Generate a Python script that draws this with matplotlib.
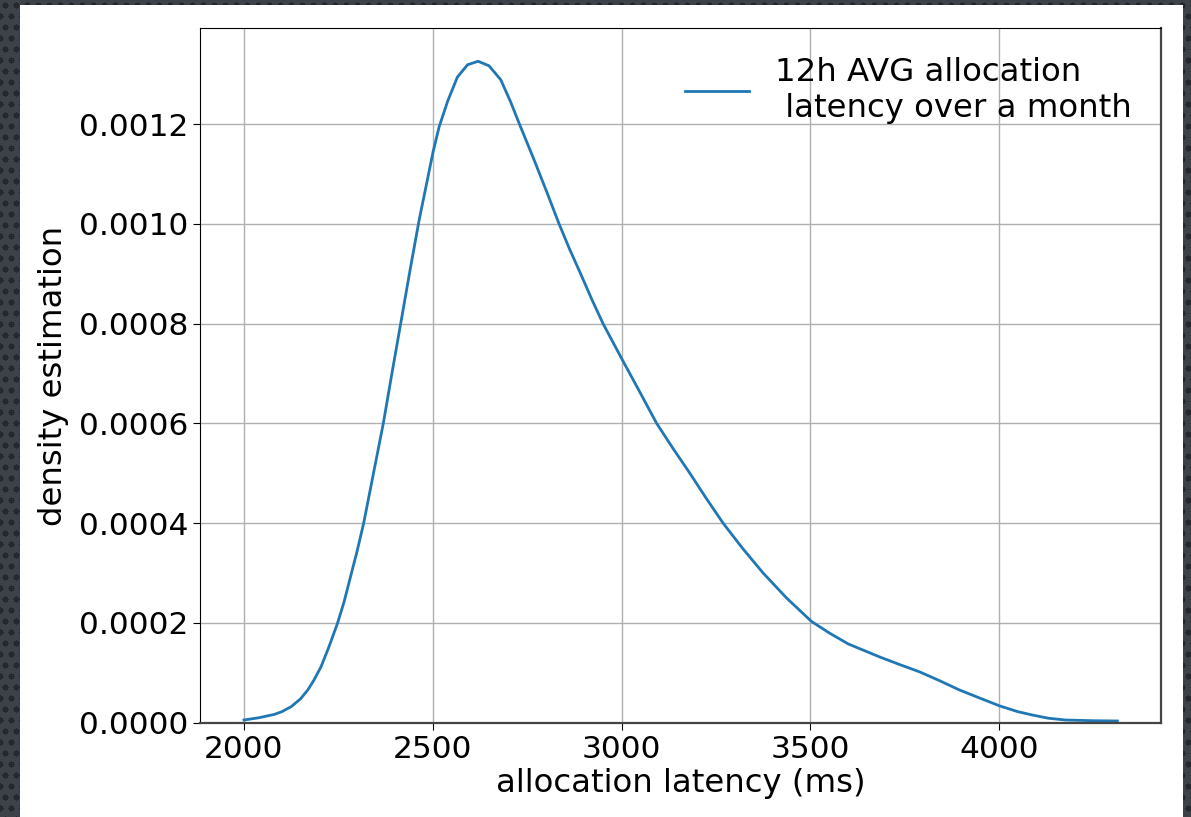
import numpy as np
import matplotlib
matplotlib.use("Agg")
import matplotlib.pyplot as plt
from matplotlib.patches import Rectangle
from matplotlib.ticker import FormatStrFormatter

# KDE curve of the 12h average allocation latency (ms -> density)
latency_ms = [2000, 2040, 2081, 2100, 2125, 2150, 2169, 2185, 2204, 2225,
              2248, 2265, 2283, 2300, 2317, 2343, 2369, 2392, 2415, 2440,
              2464, 2484, 2501, 2517, 2539, 2565, 2592, 2620, 2649, 2680,
              2706, 2728, 2768, 2803, 2834, 2862, 2891, 2921, 2951, 3001,
              3049, 3093, 3137, 3181, 3225, 3269, 3320, 3375, 3437, 3503,
              3550, 3600, 3683, 3735, 3789, 3840, 3895, 3950, 4002, 4050,
              4088, 4130, 4176, 4250, 4313]
density_e4 = [0.054, 0.10, 0.168, 0.22, 0.321, 0.48, 0.656, 0.85, 1.12, 1.52,
              2.00, 2.42, 2.95, 3.45, 4.00, 5.00, 6.00, 7.01, 8.00, 9.08,
              10.08, 10.82, 11.45, 11.95, 12.45, 12.94, 13.19, 13.26, 13.17, 12.89,
              12.45, 12.03, 11.29, 10.62, 10.01, 9.50, 9.01, 8.49, 8.00, 7.29,
              6.62, 6.00, 5.49, 5.00, 4.49, 4.00, 3.50, 3.00, 2.50, 2.03,
              1.80, 1.58, 1.32, 1.17, 1.02, 0.85, 0.656, 0.49, 0.335, 0.22,
              0.154, 0.09, 0.054, 0.04, 0.034]
density = [v * 1e-4 for v in density_e4]

y_ticks = [0.0, 0.0002, 0.0004, 0.0006, 0.0008, 0.0010, 0.0012]
x_ticks = [2000, 2500, 3000, 3500, 4000]
legend_label = "12h AVG allocation\n latency over a month"

W, H = 1191, 817
fig = plt.figure(figsize=(W / 100, H / 100), dpi=100)

# dark dotted backdrop behind the white page
bg = np.ones((H, W, 3)) * np.array([0.24, 0.26, 0.29])
yy, xx = np.mgrid[0:H, 0:W]
shift = ((yy // 11) % 2) * 5
dots = (((xx + shift) % 11 - 5) ** 2 + (yy % 11 - 5) ** 2) < 10
bg[dots] = [0.15, 0.16, 0.19]
fig.figimage(bg, xo=0, yo=0, origin="upper", zorder=-3)
fig.patches.append(Rectangle((20 / W, 0), (1183 - 20) / W, 1 - 5 / H,
                             transform=fig.transFigure, facecolor="white",
                             edgecolor="none", zorder=-2))

ax = fig.add_axes([200.3 / W, 1 - 722.7 / H, (1161 - 200.3) / W, (722.7 - 28.3) / H])
ax.plot(latency_ms, density, color="#1f77b4", lw=2, label=legend_label)

ax.set_ylim(bottom=0)
ax.set_yticks(y_ticks)
ax.set_xticks(x_ticks)
ax.yaxis.set_major_formatter(FormatStrFormatter("%.4f"))
ax.grid(True, color="#b0b0b0", lw=1)
ax.tick_params(labelsize=22.5, length=5)
for side in ["bottom", "right"]:
    ax.spines[side].set_color("#444444")
    ax.spines[side].set_linewidth(1.6)

ax.set_xlabel("allocation latency (ms)", fontsize=23.3, labelpad=3)
ax.set_ylabel("density estimation", fontsize=23.3, labelpad=7)
ax.legend(loc="upper right", frameon=False, fontsize=23.3)

fig.savefig("out.png", dpi=100)
